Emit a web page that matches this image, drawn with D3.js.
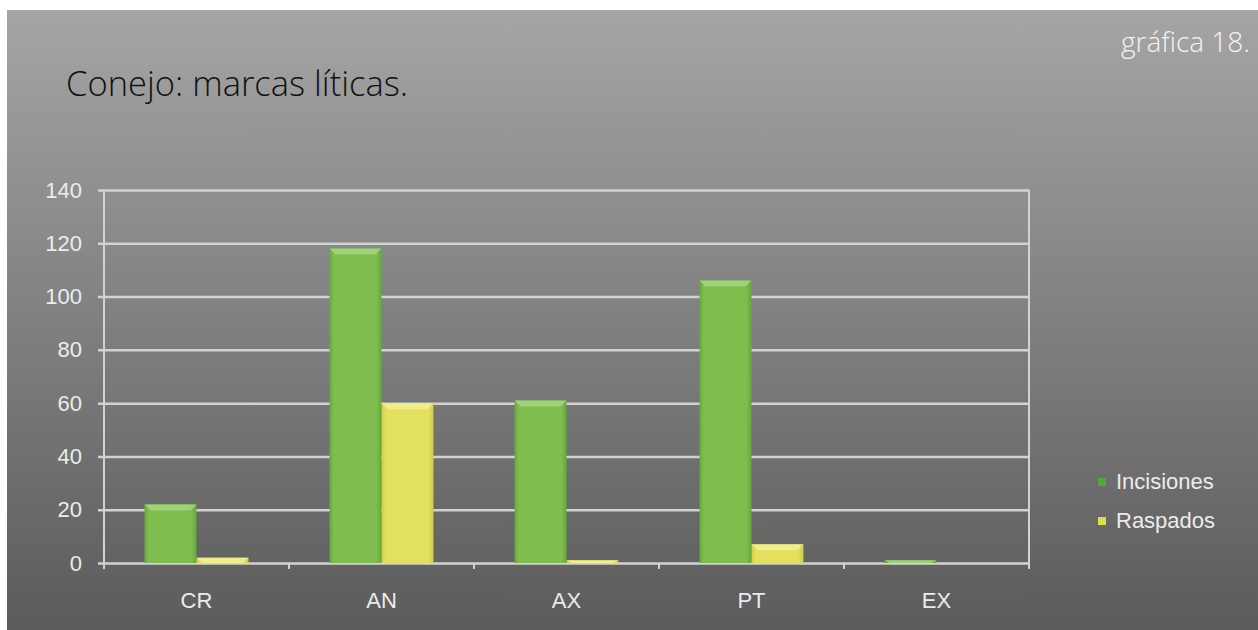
<!DOCTYPE html>
<html>
<head>
<meta charset="utf-8">
<script src="https://cdn.jsdelivr.net/npm/d3@7"></script>
<style>
  html, body { margin: 0; padding: 0; background: #ffffff; }
  svg { display: block; }
</style>
</head>
<body>
<svg id="chart" width="1258" height="630"></svg>
<script>
// Data: rabbit lithic marks by anatomical region
const categories = ["CR", "AN", "AX", "PT", "EX"];
const incisiones = [22, 118, 61, 106, 1];
const raspados = [2, 60, 1, 7, 0];
const seriesNames = ["Incisiones", "Raspados"];
const yTicks = [0, 20, 40, 60, 80, 100, 120, 140];

const W = 1258, H = 630;
const svg = d3.select("#chart");
const defs = svg.append("defs");

// Slide background: vertical grey gradient
const bg = defs.append("linearGradient").attr("id", "bg")
  .attr("x1", 0).attr("y1", 0).attr("x2", 0).attr("y2", 1);
bg.append("stop").attr("offset", "0%").attr("stop-color", "#a5a5a5");
bg.append("stop").attr("offset", "100%").attr("stop-color", "#5b5b5b");
svg.append("rect").attr("x", 7).attr("y", 10).attr("width", W - 7).attr("height", H - 10)
  .attr("fill", "url(#bg)");

// Bar fills with a soft horizontal bevel
function barGradient(id, edge, mid) {
  const g = defs.append("linearGradient").attr("id", id)
    .attr("x1", 0).attr("y1", 0).attr("x2", 1).attr("y2", 0);
  g.append("stop").attr("offset", "0%").attr("stop-color", edge);
  g.append("stop").attr("offset", "8%").attr("stop-color", mid);
  g.append("stop").attr("offset", "90%").attr("stop-color", mid);
  g.append("stop").attr("offset", "100%").attr("stop-color", edge);
}
barGradient("gInc", "#66a83a", "#7fbd4f");
barGradient("gRas", "#cfcc45", "#e2e05c");
const colors = ["url(#gInc)", "url(#gRas)"];
const topColors = ["#a6d77f", "#f3f196"];
const legendColors = ["#52a83a", "#d9df50"];

// Plot area
const plotLeft = 104, plotRight = 1029, plotTop = 190, plotBottom = 563;
const x = d3.scaleBand().domain(categories).range([plotLeft, plotRight]).paddingInner(0).paddingOuter(0);
const xs = d3.scaleBand().domain(seriesNames).range([0, x.bandwidth()]).paddingInner(0).paddingOuter(0.78);
const y = d3.scaleLinear().domain([0, 140]).range([plotBottom, plotTop]);

const gridColor = "#d2d2d2";
const labelFont = "'Liberation Sans', Arial, sans-serif";
const labelSize = "22px";
const labelColor = "#ececec";

// Horizontal gridlines with short outer ticks
const yAxis = d3.axisLeft(y).tickValues(yTicks).tickSize(-(plotRight - plotLeft)).tickPadding(22).tickSizeOuter(0);
const gy = svg.append("g").attr("transform", `translate(${plotLeft},0)`).call(yAxis);
gy.select(".domain").remove();
gy.selectAll(".tick line").attr("stroke", gridColor).attr("stroke-width", 2.5).attr("x1", -6);
gy.selectAll(".tick text").attr("fill", labelColor)
  .style("font-family", labelFont).style("font-size", labelSize);

// Vertical frame lines
svg.append("line").attr("x1", plotLeft).attr("x2", plotLeft).attr("y1", plotTop).attr("y2", plotBottom + 6)
  .attr("stroke", gridColor).attr("stroke-width", 2);
svg.append("line").attr("x1", plotRight).attr("x2", plotRight).attr("y1", plotTop).attr("y2", plotBottom + 6)
  .attr("stroke", gridColor).attr("stroke-width", 2);

// Category axis
const xAxis = d3.axisBottom(x).tickSize(0).tickPadding(29);
const gx = svg.append("g").attr("transform", `translate(0,${plotBottom})`).call(xAxis);
gx.select(".domain").remove();
gx.selectAll(".tick text").attr("fill", labelColor)
  .style("font-family", labelFont).style("font-size", labelSize);
// Tick marks between categories
svg.append("g").selectAll("line").data(categories.slice(1)).join("line")
  .attr("x1", d => x(d)).attr("x2", d => x(d))
  .attr("y1", plotBottom).attr("y2", plotBottom + 6)
  .attr("stroke", gridColor).attr("stroke-width", 2);

// Bars
const series = [incisiones, raspados];
const rows = [];
categories.forEach((c, i) => series.forEach((s, j) => rows.push({ c, j, v: s[i] })));
const bars = svg.append("g").selectAll("g").data(rows.filter(d => d.v > 0)).join("g");
bars.append("rect")
  .attr("x", d => x(d.c) + xs(seriesNames[d.j]))
  .attr("y", d => y(d.v))
  .attr("width", xs.bandwidth())
  .attr("height", d => y(0) - y(d.v))
  .attr("fill", d => colors[d.j]);
// Top highlight bevel
bars.append("path")
  .attr("d", d => {
    const x0 = x(d.c) + xs(seriesNames[d.j]), w = xs.bandwidth();
    const y0 = y(d.v), h = Math.min(6, y(0) - y(d.v));
    return `M${x0},${y0}H${x0 + w}L${x0 + w - 6},${y0 + h}H${x0 + 6}Z`;
  })
  .attr("fill", d => topColors[d.j]).attr("opacity", 0.8);

// Legend
const lg = svg.append("g").attr("transform", "translate(1098,482)");
seriesNames.forEach((n, i) => {
  const row = lg.append("g").attr("transform", `translate(0,${i * 39})`);
  row.append("rect").attr("x", 0).attr("y", -4).attr("width", 8).attr("height", 8)
    .attr("fill", legendColors[i]);
  row.append("text").attr("x", 18).attr("y", 7).text(n)
    .attr("fill", labelColor)
    .style("font-family", labelFont).style("font-size", labelSize);
});

// Title and slide caption
svg.append("text").attr("x", 66).attr("y", 96).text("Conejo: marcas líticas.")
  .attr("fill", "#111")
  .style("font-family", "'Open Sans', 'Noto Sans', sans-serif").style("font-weight", 300)
  .style("font-size", "34.5px");
svg.append("text").attr("x", 1250).attr("y", 52).attr("text-anchor", "end").text("gráfica 18.")
  .attr("fill", "#f4f4f4")
  .style("font-family", "'Open Sans', 'Noto Sans', sans-serif").style("font-weight", 300)
  .style("font-size", "28px");
</script>
</body>
</html>
